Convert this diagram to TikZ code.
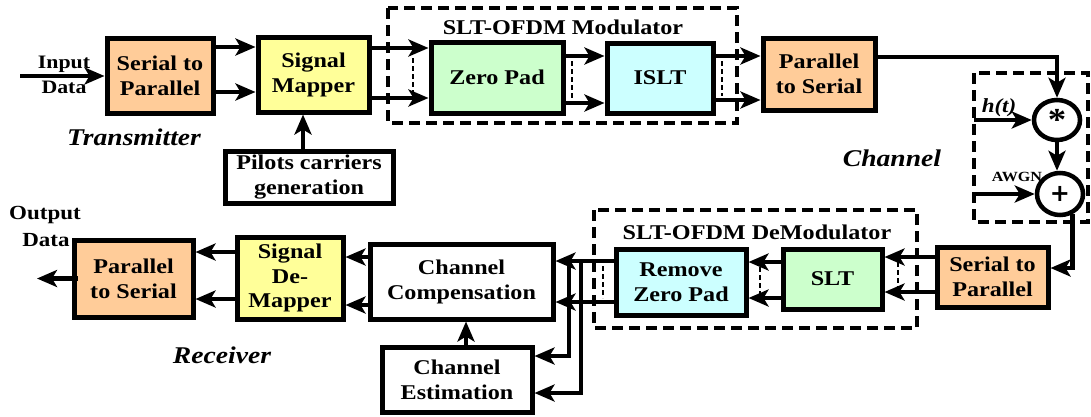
\documentclass[tikz,border=0pt]{standalone}
\usepackage{fontspec}
\setmainfont{Liberation Serif}[FakeStretch=1.15]
\newfontfamily\plusfont{DejaVu Sans}
\usetikzlibrary{arrows.meta,shapes.geometric}
\definecolor{orng}{HTML}{FFCC99}
\definecolor{yel}{HTML}{FFFF99}
\definecolor{grn}{HTML}{CCFFCC}
\definecolor{cyn}{HTML}{CCFFFF}
\begin{document}
\begin{tikzpicture}[x=1pt,y=-1pt,
  box/.style={draw=black, line width=5pt, align=center, inner sep=0pt,
              font=\fontsize{21}{25}\selectfont\bfseries},
  circ/.style={draw=black, line width=4.5pt, ellipse, fill=white, inner sep=0pt},
  arr/.style={line width=4.3pt, -{Stealth[length=20pt,width=17pt,inset=5pt]}},
  dbox/.style={line width=4pt, dash pattern=on 11pt off 6pt},
  sdash/.style={line width=2pt, dash pattern=on 5pt off 3pt},
  lbl/.style={font=\fontsize{21}{25}\selectfont\bfseries, inner sep=0pt},
  ital/.style={font=\fontsize{24}{26}\selectfont\bfseries\itshape, inner sep=0pt},
]
\useasboundingbox (0,0) rectangle (1091,416);

% ---------------- dashed groups ----------------
\draw[dbox] (388,8) rectangle (737,123);
\draw[dbox] (974,73) rectangle (1088,222);
\draw[dbox] (594,210) rectangle (917,328);

% ---------------- transmitter ----------------
\node[box, fill=orng, minimum width=106pt, minimum height=75pt] (s2p) at (160,75.5) {Serial to\\Parallel};
\node[box, fill=yel,  minimum width=111pt, minimum height=75pt] (map) at (313.5,74.5) {Signal\\Mapper};
\node[box, fill=white, minimum width=168pt, minimum height=52pt] (pil) at (309,177) {Pilots carriers\\generation};
\node[box, fill=grn,  minimum width=132pt, minimum height=71pt] (zp) at (497,77.5) {Zero Pad};
\node[box, fill=cyn,  minimum width=106pt, minimum height=70pt] (islt) at (660,78) {ISLT};
\node[box, fill=orng, minimum width=112pt, minimum height=72pt] (p2s) at (819,74) {Parallel\\to Serial};

% ---------------- channel ----------------
\node[circ, minimum width=46pt, minimum height=40pt, font=\fontsize{32}{32}\selectfont\bfseries] (mult) at (1057,120) {\raisebox{-10pt}{*}};
\node[circ, minimum width=46pt, minimum height=42pt, font=\fontsize{24}{24}\selectfont\plusfont\bfseries] (plus) at (1060,194) {+};
\coordinate (hin) at (974,120);
\coordinate (nin) at (974,194);

% ---------------- receiver ----------------
\node[box, fill=orng, minimum width=111pt, minimum height=60pt] (rs2p) at (992.5,277) {Serial to\\Parallel};
\node[box, fill=grn,  minimum width=99pt, minimum height=60pt] (slt) at (832.5,279) {SLT};
\node[box, fill=cyn,  minimum width=130pt, minimum height=66pt] (rzp) at (681,282) {Remove\\Zero Pad};
\node[box, fill=white, minimum width=183pt, minimum height=75pt] (comp) at (461.5,281.5) {Channel\\Compensation};
\node[box, fill=white, minimum width=150pt, minimum height=65pt] (est) at (457,379.5) {Channel\\Estimation};
\node[box, fill=yel,  minimum width=106pt, minimum height=82pt, font=\fontsize{21}{24.5}\selectfont\bfseries] (dmap) at (290,278) {Signal\\De-\\Mapper};
\node[box, fill=orng, minimum width=119pt, minimum height=77pt] (rp2s) at (133.5,278.5) {Parallel\\to Serial};

% ---------------- labels ----------------
\node[lbl, font=\fontsize{19}{20}\selectfont\bfseries] (lin) at (64,64) {Input};
\node[lbl, font=\fontsize{19}{20}\selectfont\bfseries] (ldin) at (64,87) {Data};
\node[lbl, font=\fontsize{20}{20}\selectfont\bfseries] (lout) at (45,215) {Output};
\node[lbl, font=\fontsize{20}{20}\selectfont\bfseries] (ldout) at (46,240) {Data};
\node[lbl] (lmod) at (563,27) {SLT-OFDM Modulator};
\node[lbl] (ldem) at (757,232) {SLT-OFDM DeModulator};
\node[ital] (ltx) at (134,137) {Transmitter};
\node[ital] (lch) at (892,158) {Channel};
\node[ital] (lrx) at (222,355) {Receiver};
\node[lbl, font=\fontsize{20}{20}\selectfont\bfseries\itshape] (lh) at (999,108) {h(t)};
\node[lbl, font=\fontsize{14}{14}\selectfont\bfseries] (lawgn) at (1017,177) {AWGN};

% ---------------- transmitter connectors ----------------
\coordinate (din) at (20,76);
\draw[arr] (din) -- (s2p.west |- din);
\draw[arr] (s2p.east |- 0,47) -- (map.west |- 0,47);
\draw[arr] (s2p.east |- 0,92) -- (map.west |- 0,92);
\draw[arr] (pil.north -| 303,0) -- (map.south -| 303,0);
\draw[arr] (map.east |- 0,48) -- (zp.west |- 0,48);
\draw[arr] (map.east |- 0,98) -- (zp.west |- 0,98);
\draw[sdash] (413,58) -- (413,95);
\draw[arr] (zp.east |- 0,56) -- (islt.west |- 0,56);
\draw[arr] (zp.east |- 0,103) -- (islt.west |- 0,103);
\draw[sdash] (572,61) -- (572,99);
\draw[arr] (islt.east |- 0,56) -- (p2s.west |- 0,56);
\draw[arr] (islt.east |- 0,100) -- (p2s.west |- 0,100);
\draw[sdash] (722,61) -- (722,96);

% ---------------- channel connectors ----------------
\draw[arr] (p2s.east |- 0,57) -| (mult.north);
\draw[arr] (hin) -- (mult.west);
\draw[arr] (mult.south) -- (plus.north -| mult.south);
\draw[arr] (nin) -- (plus.west);
\draw[arr] (plus.-58) |- (rs2p.east |- 0,268);

% ---------------- receiver connectors ----------------
\draw[arr] (rs2p.west |- 0,257) -- (slt.east |- 0,257);
\draw[arr] (rs2p.west |- 0,292) -- (slt.east |- 0,292);
\draw[sdash] (898,262) -- (898,288);
\draw[arr] (slt.west |- 0,262) -- (rzp.east |- 0,262);
\draw[arr] (slt.west |- 0,298) -- (rzp.east |- 0,298);
\draw[sdash] (760,267) -- (760,294);
\draw[arr] (rzp.west |- 0,261) -- (comp.east |- 0,261);
\draw[arr] (rzp.west |- 0,302) -- (comp.east |- 0,302);
\draw[sdash] (603,266) -- (603,298);
\coordinate (br1) at (569,261);
\coordinate (br2) at (581,261);
\draw[arr] (br1) |- (est.east |- 0,356);
\draw[arr] (br2) |- (est.east |- 0,393);
\draw[arr] (est.north -| 466,0) -- (comp.south -| 466,0);
\draw[arr] (comp.west |- 0,257) -- (dmap.east |- 0,257);
\draw[arr] (comp.west |- 0,305) -- (dmap.east |- 0,305);
\draw[arr] (dmap.west |- 0,252) -- (rp2s.east |- 0,252);
\draw[arr] (dmap.west |- 0,299) -- (rp2s.east |- 0,299);
\coordinate (dout) at (37,278.5);
\draw[arr] ([xshift=6pt]rp2s.west) -- (dout);
\end{tikzpicture}
\end{document}
